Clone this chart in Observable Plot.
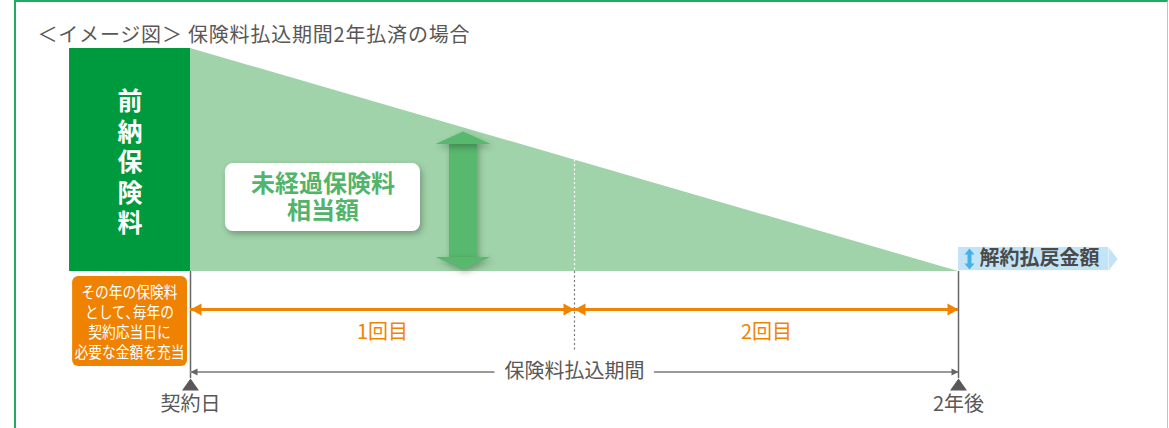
<!DOCTYPE html>
<html><head><meta charset="utf-8">
<script src="https://cdn.jsdelivr.net/npm/d3@7"></script>
<script src="https://cdn.jsdelivr.net/npm/@observablehq/plot@0.6"></script>
<style>
body{margin:0;background:#fff;}
#wrap{position:relative;width:1169px;height:428px;overflow:hidden;}
#border{position:absolute;left:14px;top:0;width:1151px;height:460px;border-left:2px solid #1aae60;border-top:2px solid #1aae60;border-right:1px solid #9ed9b6;pointer-events:none;}
</style></head><body><div id="wrap"><div id="border"></div></div>
<script>
// ---- data ----
const titleText = "＜イメージ図＞ 保険料払込期間2年払済の場合";
const years = [0, 1, 2];                 // 契約日, 1年後, 2年後
const unexpiredPremium = [100, 50, 0];   // 未経過保険料相当額 (%)
const prepaidPremium = 100;              // 前納保険料 (%)
const prepaidLabel = "前納保険料";
const periodLabels = ["1回目", "2回目"];
const dateLabels = ["契約日", "2年後"];
const periodTitle = "保険料払込期間";
const unexpiredLabel = ["未経過保険料", "相当額"];
const surrenderLabel = "解約払戻金額";
const orangeNote = ["その年の保険料", "として､毎年の", "契約応当日に", "必要な金額を充当"];

// ---- layout constants (in scale units) ----
const rowArrow = -17, rowPeriodNum = -27.4, rowPeriod = -45.1, rowBase = -48, rowDate = -59.6;
const arrowYear = 0.7096, arrowBottom = 0.9, arrowTop = 62.8;

const area = years.map((y, i) => ({year: y, v: unexpiredPremium[i]}));

const poly = (pts) => ({draw(ctx){ctx.moveTo(pts[0][0], pts[0][1]); for (const p of pts.slice(1)) ctx.lineTo(p[0], p[1]); ctx.closePath();}});
const headR = poly([[0,0],[-11,-6],[-11,6]]);
const headL = poly([[0,0],[11,-6],[11,6]]);
const gHeadR = poly([[0,0],[-7,-3.5],[-7,3.5]]);
const gHeadL = poly([[0,0],[7,-3.5],[7,3.5]]);
const baseTri = poly([[0,0],[-8.5,12],[8.5,12]]);
const greenUp = poly([[0,0],[-27.5,12.5],[27.5,12.5]]);
const greenDown = poly([[0,0],[-27.5,-12.5],[27.5,-12.5]]);
const bluePoint = poly([[0,-11.5],[9,0],[0,11.5]]);
const blueIcon = poly([[0,-10.5],[5,-4.5],[2,-4.5],[2,4.5],[5,4.5],[0,10.5],[-5,4.5],[-2,4.5],[-2,-4.5],[-5,-4.5]]);

const font = "'Noto Sans CJK JP', 'Noto Sans', sans-serif";

const chart = Plot.plot({
  width: 1169, height: 428, margin: 0,
  x: {domain: [0, 2], range: [190, 958], axis: null},
  y: {domain: [0, 100], range: [271, 48], axis: null},
  style: {fontFamily: font, background: "transparent", overflow: "visible"},
  marks: [
    // unexpired premium triangle
    Plot.areaY(area, {x: "year", y: "v", fill: "#a0d3a9"}),
    // prepaid premium block
    Plot.rect([prepaidPremium], {x1: -0.315, x2: 0, y1: 0, y2: d => d, fill: "#009a3e"}),
    Plot.text([prepaidLabel.split("").join("\n")], {x: -0.1576, y: 49.3, fill: "white", fontSize: 25, fontWeight: "bold", lineHeight: 1.22}),
    // dashed year-1 line
    Plot.ruleX([years[1]], {y1: unexpiredPremium[1], y2: 0, stroke: "white", strokeDasharray: "2,2.5", strokeWidth: 1.2}),
    Plot.ruleX([years[1]], {y1: 0, y2: -36.8, stroke: "#777", strokeDasharray: "2,2.5", strokeWidth: 1.2}),
    // vertical lines at 契約日 / 2年後
    Plot.ruleX([years[0], years[2]], {y1: 0, y2: rowBase, stroke: "#666", strokeWidth: 1.5}),
    // orange period arrows
    Plot.ruleY([rowArrow], {x1: years[0], x2: years[2], stroke: "#f08300", strokeWidth: 3}),
    Plot.dot([years[1], years[2]], {x: d => d, y: rowArrow, symbol: headR, fill: "#f08300"}),
    Plot.dot([years[0], years[1]], {x: d => d, y: rowArrow, symbol: headL, fill: "#f08300"}),
    Plot.text(periodLabels, {x: (d, i) => (years[i] + years[i + 1]) / 2, y: rowPeriodNum, fill: "#f08300", fontSize: 20}),
    // payment period line
    Plot.ruleY([rowPeriod], {x1: years[0], x2: years[2], stroke: "#999", strokeWidth: 2}),
    Plot.dot([years[2]], {x: d => d, y: rowPeriod, symbol: gHeadR, fill: "#666"}),
    Plot.dot([years[0]], {x: d => d, y: rowPeriod, symbol: gHeadL, fill: "#666"}),
    Plot.text([periodTitle], {x: years[1], y: rowPeriod, fill: "#595757", fontSize: 20, stroke: "white", strokeWidth: 22, paintOrder: "stroke", strokeLinejoin: "round"}),
    // base triangles and date labels
    Plot.dot([years[0], years[2]], {x: d => d, y: rowBase, symbol: baseTri, fill: "#595757"}),
    Plot.text(dateLabels, {x: (d, i) => [years[0], years[2]][i], y: rowDate, fill: "#595757", fontSize: 20}),
    // orange note box
    Plot.rect([0], {x1: -0.307, x2: -0.0078, y1: -42.6, y2: -2.24, rx: 6, fill: "#ef8200"}),
    Plot.text([orangeNote.join("\n")], {x: -0.1576, y: -22.9, fill: "white", fontSize: 16, lineHeight: 1.25, ariaDescription: "note"}),
    // unexpired label box
    Plot.rect([0], {x1: 0.091, x2: 0.599, y1: 17.9, y2: 48.4, rx: 8, fill: "white", ariaDescription: "shadow"}),
    Plot.text([unexpiredLabel.join("\n")], {x: 0.345, y: 33.5, fill: "#52b46a", fontSize: 24, fontWeight: "bold", lineHeight: 1.12}),
    // green double arrow
    Plot.ruleX([arrowYear], {y1: arrowTop, y2: arrowBottom, stroke: "#58b86e", strokeWidth: 28, insetTop: 11, insetBottom: 11, ariaDescription: "shadow"}),
    Plot.dot([arrowYear], {x: d => d, y: arrowTop, symbol: greenUp, fill: "#58b86e", ariaDescription: "shadow"}),
    Plot.dot([arrowYear], {x: d => d, y: arrowBottom, symbol: greenDown, fill: "#58b86e", ariaDescription: "shadow"}),
    // surrender value label
    Plot.rect([0], {x1: years[2], x2: 2.391, y1: 0.4, y2: 10.8, fill: "#c3e4f6"}),
    Plot.dot([2.391], {x: d => d, y: 5.6, symbol: bluePoint, fill: "#c3e4f6"}),
    Plot.dot([2.0286], {x: d => d, y: 5.6, symbol: blueIcon, fill: "#45b1e6"}),
    Plot.text([surrenderLabel], {x: 2.055, y: 5.6, textAnchor: "start", fill: "#4a4a4a", fontSize: 20, fontWeight: "bold"}),
    // title
    Plot.text([titleText], {frameAnchor: "top-left", dx: 37, dy: 27, textAnchor: "start", fill: "#595757", fontSize: 20, ariaDescription: "title"})
  ]
});
chart.querySelectorAll('[aria-description="shadow"]').forEach(g => g.style.filter = "drop-shadow(2px 3px 3px rgba(0,0,0,0.28))");
chart.querySelectorAll('[aria-description="title"]').forEach(g => g.style.letterSpacing = "0.8px");
chart.querySelectorAll('[aria-description="note"]').forEach(g => g.setAttribute("transform", "translate(129.5,0) scale(0.86,1) translate(-129.5,0)"));
document.getElementById("wrap").prepend(chart);
</script></body></html>
